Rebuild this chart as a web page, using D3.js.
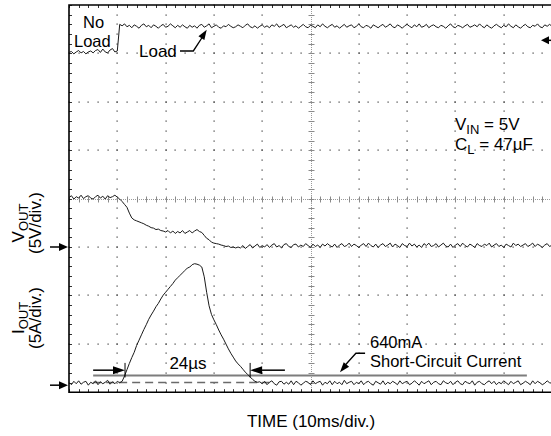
<!DOCTYPE html>
<html><head><meta charset="utf-8">
<script src="https://cdn.jsdelivr.net/npm/d3@7"></script>
<style>
body{margin:0;background:#fff}
svg{display:block}
text{font-family:"Liberation Sans",Arial,Helvetica,sans-serif;fill:#000}
</style>
</head><body>
<svg id="chart" width="551" height="436"></svg>
<script>
// ---------- DATA ----------
const sampleStepMs = 0.5;          // scope samples, 10 ms/div, 10 divisions
const timeSpanMs = 100;
const voltsPerDiv = 5;             // VOUT 5V/div
const ampsPerDiv = 5;              // IOUT 5A/div
const voutGroundDiv = 3.0;         // VOUT ground marker (divisions from bottom)
const ioutGroundDiv = 0.145;       // IOUT ground marker
const loadMarkerDiv = 7.27;        // load-channel marker on the right

// load trace (screen divisions from bottom)
const loadTrace = [
7.02,7.04,6.99,7.03,7.06,7.01,7.04,6.99,7.03,7.05,7.01,7.06,7.08,7.02,7.09,7.03,7.01,7.07,7.10,7.03,7.05,
7.60,7.57,7.61,7.55,7.58,7.53,7.59,7.56,7.52,7.58,
7.61,7.55,7.58,7.53,7.59,7.56,7.52,7.57,7.60,7.54,
7.56,7.61,7.57,7.53,7.58,7.54,7.59,7.55,7.52,7.58,
7.54,7.57,7.52,7.58,7.60,7.54,7.57,7.61,7.53,7.56,
7.59,7.54,7.52,7.57,7.55,7.60,7.56,7.53,7.55,7.59,
7.56,7.53,7.58,7.61,7.55,7.53,7.57,7.52,7.56,7.59,
7.54,7.57,7.53,7.59,7.56,7.61,7.54,7.57,7.60,7.53,
7.56,7.59,7.54,7.57,7.52,7.56,7.60,7.55,7.53,7.58,
7.56,7.53,7.59,7.55,7.61,7.56,7.53,7.57,7.60,7.54,
7.57,7.52,7.56,7.60,7.54,7.57,7.59,7.53,7.56,7.61,
7.55,7.53,7.58,7.56,7.52,7.59,7.56,7.53,7.57,7.60,
7.54,7.57,7.61,7.55,7.53,7.59,7.56,7.52,7.57,7.60,
7.56,7.53,7.59,7.55,7.61,7.54,7.56,7.60,7.53,7.57,
7.59,7.55,7.53,7.58,7.56,7.52,7.57,7.61,7.55,7.53,
7.58,7.56,7.53,7.57,7.60,7.54,7.56,7.59,7.55,7.61,
7.56,7.53,7.59,7.55,7.52,7.57,7.60,7.56,7.53,7.58,
7.55,7.61,7.56,7.53,7.59,7.55,7.52,7.57,7.60,7.55,
7.53,7.58,7.56,7.61,7.55,7.53,7.59,7.56,7.60,7.56
];

// VOUT (V)
const voutTrace = [
5.10,5.30,4.95,5.20,5.05,5.35,5.00,5.20,5.30,5.05,4.95,5.20,5.35,5.05,5.25,4.95,5.30,5.10,5.20,5.35,5.15,
4.95,4.70,4.40,4.10,3.50,3.00,2.80,2.70,2.60,2.50,
2.40,2.25,2.15,2.00,1.95,1.80,1.85,1.70,1.65,1.55,
1.70,1.45,1.65,1.40,1.60,1.45,1.70,1.40,1.55,1.70,
1.45,1.65,1.80,1.60,1.50,1.20,0.90,0.75,0.50,0.40,
0.35,0.30,0.20,0.15,0.05,0.10,-0.05,0.00,-0.10,0.00,
-0.10,0.15,-0.15,0.05,0.25,-0.10,0.10,0.30,-0.05,0.15,
0.00,0.25,-0.05,0.20,0.35,0.00,0.15,-0.10,0.25,0.35,
0.05,-0.05,0.25,0.30,0.00,0.20,0.05,0.35,0.15,-0.05,
0.30,0.05,0.20,-0.05,0.30,0.10,0.35,0.15,0.00,0.30,
-0.05,0.20,0.35,0.05,0.15,0.40,0.05,0.30,0.15,-0.05,
0.20,0.35,0.05,0.40,0.15,0.00,0.30,-0.05,0.20,0.35,
0.05,0.20,0.40,0.00,0.30,0.15,-0.05,0.35,0.15,0.05,
0.40,0.10,0.30,0.00,0.20,-0.05,0.35,0.15,0.40,0.05,
0.15,0.35,0.00,0.20,0.40,0.10,0.00,0.30,-0.05,0.20,
0.35,0.05,0.40,0.15,0.00,0.30,0.15,-0.05,0.35,0.15,
0.05,0.30,0.15,0.40,0.00,0.20,0.35,0.05,0.20,-0.05,
0.30,0.15,0.00,0.40,0.15,0.30,0.05,0.20,0.35,0.05,
0.20,0.40,0.05,0.30,0.15,-0.05,0.20,0.35,0.05,0.20
];

// IOUT (A)
const ioutTrace = [
0.30,0.05,0.40,0.15,0.45,0.10,0.30,0.40,0.00,0.30,0.15,0.45,0.05,0.35,0.15,0.30,0.50,0.10,0.35,0.15,0.40,0.25,
0.40,0.95,1.60,2.25,2.85,3.40,4.10,4.65,
5.20,5.75,6.25,6.80,7.25,7.65,8.10,8.45,
8.90,9.30,9.60,9.90,10.20,10.50,10.85,11.10,
11.35,11.60,11.85,12.10,12.20,12.45,12.55,12.50,
12.40,12.20,11.20,9.60,8.20,7.30,6.75,6.25,
5.70,5.20,4.75,4.25,3.75,3.30,2.90,2.50,
2.20,1.95,1.65,1.35,1.10,0.85,0.60,0.40,
0.30,0.35,
0.15,0.40,0.05,0.30,0.45,0.15,0.00,0.35,0.40,0.10,
0.30,0.10,0.45,0.05,0.40,0.25,0.00,0.20,0.40,0.30,
0.05,0.45,0.15,0.30,0.40,0.00,0.30,0.15,0.45,0.05,
0.40,0.15,0.30,0.05,0.50,0.15,0.30,0.40,0.05,0.30,
0.15,0.45,0.05,0.30,0.40,0.15,0.00,0.40,0.25,0.10,
0.45,0.05,0.30,0.15,0.40,0.25,0.05,0.45,0.15,0.30,
0.40,0.05,0.20,0.45,0.25,0.00,0.40,0.15,0.30,0.45,
0.05,0.30,0.40,0.15,0.05,0.45,0.25,0.15,0.40,0.05,
0.30,0.45,0.15,0.05,0.40,0.25,0.15,0.45,0.00,0.30,
0.40,0.15,0.05,0.30,0.45,0.15,0.40,0.05,0.30,0.15,
0.45,0.25,0.05,0.40,0.15,0.30,0.45,0.05,0.20,0.40,
0.25,0.05,0.45,0.15,0.40,0.25,0.05,0.20,0.45,0.25,
0.20
];

// annotation values
const shortCircuitLevelA = 1.0;     // grey solid reference line
const shortCircuitSpanMs = [5, 94.8];
const baselineLevelA = 0.28;        // dashed reference line
const baselineSpanMs = [5, 41.5];
const pulseStartMs = 11.6, pulseEndMs = 37.5;
const pulseArrowLevelA = 1.55;
const pulseArrowOuterMs = [5, 44.7];

const xLabel = "TIME (10ms/div.)";
const voutLabel = ["V", "OUT", "(5V/div.)"];
const ioutLabel = ["I", "OUT", "(5A/div.)"];
const pulseWidthLabel = "24µs";
const scLabel = ["640mA", "Short-Circuit Current"];
const condLabels = [["V","IN"," = 5V"],["C","L"," = 47µF"]];
const loadLabels = ["No", "Load", "Load"];

// ---------- LAYOUT ----------
const plotLeft = 69, plotTop = 5, divX = 48.3, divY = 48.4;
const nDivX = 10, nDivY = 8;
const plotRight = plotLeft + nDivX*divX, plotBottom = plotTop + nDivY*divY;

const svg = d3.select("#chart");
const x = d3.scaleLinear().domain([0, timeSpanMs]).range([plotLeft, plotRight]);
const yDiv = d3.scaleLinear().domain([0, nDivY]).range([plotBottom, plotTop]);
const yV = d3.scaleLinear().domain([-voutGroundDiv*voltsPerDiv, (nDivY-voutGroundDiv)*voltsPerDiv]).range([plotBottom, plotTop]);
const yI = d3.scaleLinear().domain([-ioutGroundDiv*ampsPerDiv, (nDivY-ioutGroundDiv)*ampsPerDiv]).range([plotBottom, plotTop]);

// ---------- GRID ----------
const grid = svg.append("g");
const minorX = d3.range(0, timeSpanMs + 0.001, timeSpanMs/nDivX/5);
const minorY = d3.range(0, nDivY + 0.001, 0.2);
const dotColor = "#3a3a3a";
d3.range(1, nDivX).filter(k => k !== 5).forEach(k => {
  grid.selectAll(null).data(minorY).join("rect")
    .attr("x", Math.round(x(k*10)) - 0.5).attr("y", d => Math.round(yDiv(d)) - 0.5)
    .attr("width", 1.2).attr("height", 1.2).attr("fill", dotColor);
});
d3.range(1, nDivY).filter(k => k !== 4).forEach(k => {
  grid.selectAll(null).data(minorX).join("rect")
    .attr("x", d => Math.round(x(d)) - 0.5).attr("y", Math.round(yDiv(k)) - 0.5)
    .attr("width", 1.2).attr("height", 1.2).attr("fill", dotColor);
});
// centre graticule lines with ticks
const cx = Math.round(x(50)) + 0.5, cy = Math.round(yDiv(4)) + 0.5;
grid.append("line").attr("x1", cx).attr("x2", cx).attr("y1", plotTop).attr("y2", plotBottom)
  .attr("stroke", "#9a9a9a").attr("stroke-dasharray", "1,1");
grid.append("line").attr("x1", plotLeft).attr("x2", plotRight).attr("y1", cy).attr("y2", cy)
  .attr("stroke", "#9a9a9a").attr("stroke-dasharray", "1,1");
grid.selectAll(null).data(minorY).join("line")
  .attr("x1", cx - 3).attr("x2", cx + 3)
  .attr("y1", d => Math.round(yDiv(d)) + 0.5).attr("y2", d => Math.round(yDiv(d)) + 0.5)
  .attr("stroke", "#8a8a8a");
grid.selectAll(null).data(minorX).join("line")
  .attr("y1", cy - 3).attr("y2", cy + 3)
  .attr("x1", d => Math.round(x(d)) + 0.5).attr("x2", d => Math.round(x(d)) + 0.5)
  .attr("stroke", "#8a8a8a");
// frame ticks
grid.selectAll(null).data(minorX).join("line")
  .attr("x1", d => Math.round(x(d)) + 0.5).attr("x2", d => Math.round(x(d)) + 0.5)
  .attr("y1", plotTop).attr("y2", plotTop + 3).attr("stroke", "#333");
grid.selectAll(null).data(minorX).join("line")
  .attr("x1", d => Math.round(x(d)) + 0.5).attr("x2", d => Math.round(x(d)) + 0.5)
  .attr("y1", plotBottom).attr("y2", plotBottom - 3).attr("stroke", "#333");
grid.selectAll(null).data(minorY).join("line")
  .attr("y1", d => Math.round(yDiv(d)) + 0.5).attr("y2", d => Math.round(yDiv(d)) + 0.5)
  .attr("x1", plotLeft).attr("x2", plotLeft + 3).attr("stroke", "#333");
// frame
svg.append("path")
  .attr("d", `M${plotRight+2},${plotTop} H${plotLeft} V${plotBottom} H${plotRight+2}`)
  .attr("fill", "none").attr("stroke", "#000").attr("stroke-width", 1.6);

// ---------- REFERENCE LINES ----------
svg.append("line")
  .attr("x1", x(shortCircuitSpanMs[0])).attr("x2", x(shortCircuitSpanMs[1]))
  .attr("y1", yI(shortCircuitLevelA)).attr("y2", yI(shortCircuitLevelA))
  .attr("stroke", "#7d7d7d").attr("stroke-width", 2);
svg.append("line")
  .attr("x1", x(baselineSpanMs[0])).attr("x2", x(baselineSpanMs[1]))
  .attr("y1", yI(baselineLevelA)).attr("y2", yI(baselineLevelA))
  .attr("stroke", "#6a6a6a").attr("stroke-width", 1.5).attr("stroke-dasharray", "8,5");

// ---------- TRACES ----------
const lineGen = scaleY => d3.line().x((d, i) => x(i*sampleStepMs)).y(d => scaleY(d));
[[loadTrace, yDiv], [voutTrace, yV], [ioutTrace, yI]].forEach(([data, sy]) => {
  svg.append("path").datum(data).attr("d", lineGen(sy))
    .attr("fill", "none").attr("stroke", "#1a1a1a").attr("stroke-width", 1)
    .attr("stroke-linejoin", "round");
});

// ---------- ARROWS ----------
function arrowHead(tx, ty, angleDeg, len = 11, half = 4) {
  const a = angleDeg*Math.PI/180, c = Math.cos(a), s = Math.sin(a);
  const bx = tx - len*c, by = ty - len*s;
  const p = [[tx, ty], [bx - half*s, by + half*c], [bx + half*s, by - half*c]];
  svg.append("path").attr("d", "M" + p.map(q => q.join(",")).join("L") + "Z").attr("fill", "#000");
}
function segLine(pts, w = 1.3) {
  svg.append("path").attr("d", d3.line()(pts)).attr("fill", "none")
    .attr("stroke", "#000").attr("stroke-width", w);
}
// channel ground markers
segLine([[50, yV(0)], [60, yV(0)]], 1.5); arrowHead(68, yV(0), 0, 9, 4);
segLine([[50, yI(0)], [60, yI(0)]], 1.5); arrowHead(68, yI(0), 0, 9, 4);
segLine([[547, yDiv(loadMarkerDiv)], [552, yDiv(loadMarkerDiv)]], 1.5); arrowHead(541, yDiv(loadMarkerDiv), 180, 8, 4);

// pulse width arrows
const ya = yI(pulseArrowLevelA);
segLine([[x(pulseArrowOuterMs[0]), ya], [x(pulseStartMs) - 8, ya]], 1.5);
arrowHead(x(pulseStartMs), ya, 0, 12, 4);
segLine([[x(pulseArrowOuterMs[1]), ya], [x(pulseEndMs) + 8, ya]], 1.5);
arrowHead(x(pulseEndMs), ya, 180, 12, 4);
[pulseStartMs, pulseEndMs].forEach(t => segLine([[x(t), yI(2.3)], [x(t), yI(0.8)]], 1));

// short-circuit arrow
const scA = [[x(61.3), yI(3.3)], [x(59.4), yI(3.3)], [x(56.6), yI(1.75)]];
segLine(scA, 1.3);
arrowHead(x(56.1), yI(1.34), Math.atan2(yI(1.34) - yI(3.3), x(56.1) - x(59.4))*180/Math.PI, 10, 3.5);

// load arrow
segLine([[x(22.98), yDiv(7.05)], [x(25.74), yDiv(7.05)], [x(27.9), yDiv(7.38)]], 1.3);
arrowHead(x(28.51), yDiv(7.49), Math.atan2(yDiv(7.49) - yDiv(7.05), x(28.51) - x(25.74))*180/Math.PI, 10, 3.5);

// ---------- TEXT ----------
const fs = 17;
function txt(s, tx, ty, anchor = "start", size = fs) {
  return svg.append("text").attr("x", tx).attr("y", ty).attr("font-size", size)
    .attr("text-anchor", anchor).text(s);
}
txt(loadLabels[0], 83, 28, "start", 16.5);
txt(loadLabels[1], 74, 47, "start", 16.5);
txt(loadLabels[2], 139, 57);
txt(pulseWidthLabel, 188, 369, "middle");
txt(scLabel[0], 370, 348, "start", 16.5);
txt(scLabel[1], 370, 367, "start", 16.5);
txt(xLabel, 311, 427, "middle");

condLabels.forEach((c, i) => {
  const t = svg.append("text").attr("x", 455).attr("y", 130 + i*20).attr("font-size", fs);
  t.append("tspan").text(c[0]);
  t.append("tspan").attr("dy", 4).attr("font-size", 13).text(c[1]);
  t.append("tspan").attr("dy", -4).text(c[2]);
});

function yLabel(parts, cyy) {
  const g = svg.append("g").attr("transform", `translate(24,${cyy}) rotate(-90)`);
  const t = g.append("text").attr("font-size", fs).attr("text-anchor", "middle");
  t.append("tspan").text(parts[0]);
  t.append("tspan").attr("dy", 4).attr("font-size", 13).text(parts[1]);
  const g2 = svg.append("g").attr("transform", `translate(41,${cyy}) rotate(-90)`);
  g2.append("text").attr("font-size", fs).attr("text-anchor", "middle").text(parts[2]);
}
yLabel(voutLabel, 223);
yLabel(ioutLabel, 318);
</script>
</body></html>
